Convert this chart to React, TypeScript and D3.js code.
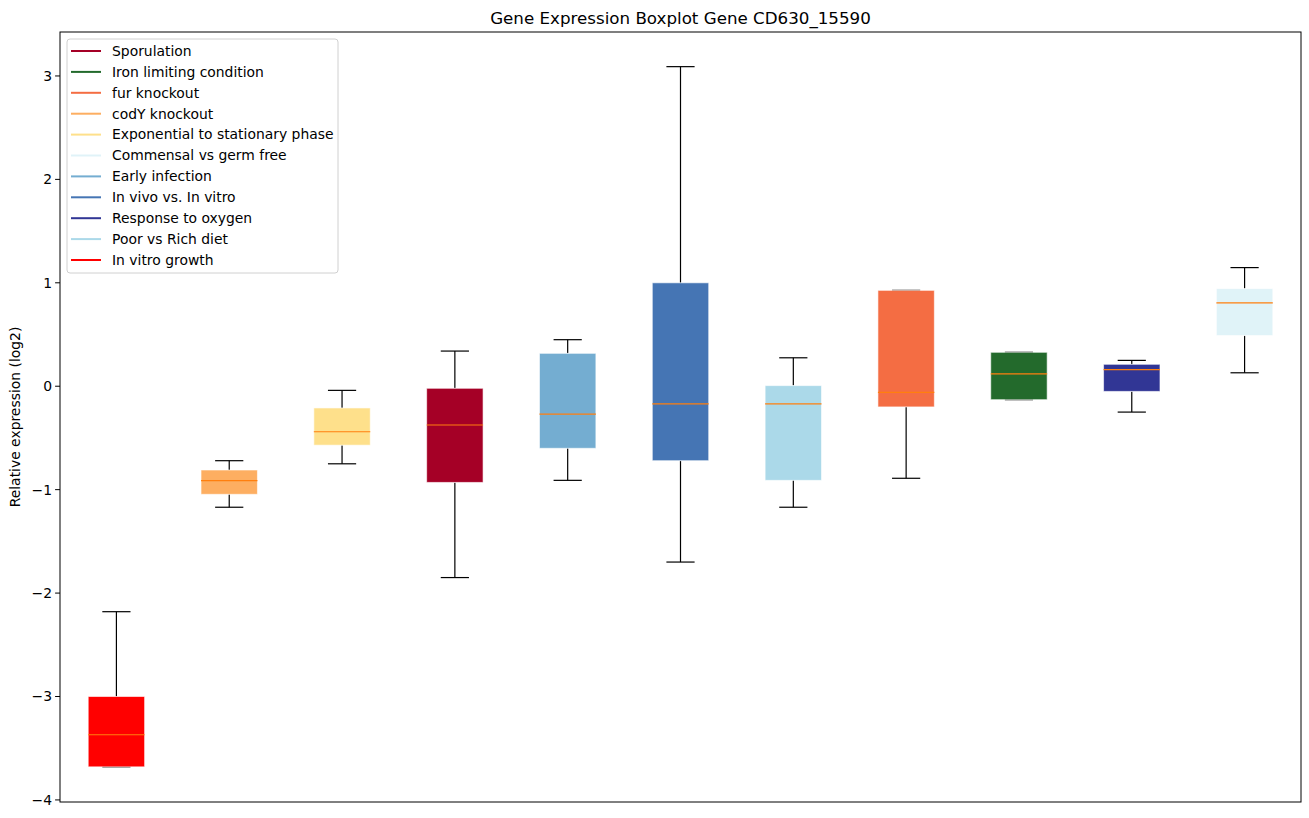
import { useEffect } from 'react';
import * as d3 from 'd3';

// boxes in drawing order, left to right
const categories = [
  'In vitro growth',
  'codY knockout',
  'Exponential to stationary phase',
  'Sporulation',
  'Early infection',
  'In vivo vs. In vitro',
  'Poor vs Rich diet',
  'fur knockout',
  'Iron limiting condition',
  'Response to oxygen',
  'Commensal vs germ free',
];
const whiskerLow = [-3.68, -1.17, -0.75, -1.85, -0.91, -1.70, -1.17, -0.89, -0.13, -0.25, 0.13];
const q1 = [-3.68, -1.045, -0.57, -0.93, -0.60, -0.72, -0.91, -0.20, -0.13, -0.05, 0.49];
const medians = [-3.37, -0.913, -0.44, -0.375, -0.27, -0.17, -0.17, -0.06, 0.12, 0.16, 0.805];
const q3 = [-3.0, -0.81, -0.21, -0.02, 0.318, 1.0, 0.006, 0.927, 0.328, 0.212, 0.944];
const whiskerHigh = [-2.18, -0.72, -0.04, 0.34, 0.45, 3.09, 0.275, 0.927, 0.328, 0.25, 1.147];

const legendOrder = [
  'Sporulation',
  'Iron limiting condition',
  'fur knockout',
  'codY knockout',
  'Exponential to stationary phase',
  'Commensal vs germ free',
  'Early infection',
  'In vivo vs. In vitro',
  'Response to oxygen',
  'Poor vs Rich diet',
  'In vitro growth',
];
const colorOf: Record<string, string> = {
  'Sporulation': '#a50026',
  'Iron limiting condition': '#236a2c',
  'fur knockout': '#f46d43',
  'codY knockout': '#fdae61',
  'Exponential to stationary phase': '#fee08b',
  'Commensal vs germ free': '#e0f3f8',
  'Early infection': '#74add1',
  'In vivo vs. In vitro': '#4575b4',
  'Response to oxygen': '#313695',
  'Poor vs Rich diet': '#abd9e9',
  'In vitro growth': '#ff0000',
};
const yTicks = [-4, -3, -2, -1, 0, 1, 2, 3];

const W = 1309;
const H = 818;
const margin = { top: 32, right: 8, bottom: 16, left: 60 };
const FONT = 'DejaVu Sans, sans-serif';

export default function App() {
  useEffect(() => {
    document.body.style.margin = '0';
  }, []);

  const x = d3.scaleLinear()
    .domain([0.5, categories.length + 0.5])
    .range([margin.left, W - margin.right]);
  const y = d3.scaleLinear()
    .domain([-4.02, 3.425])
    .range([H - margin.bottom, margin.top]);
  const boxW = (x(1) - x(0)) * 0.5;
  const capW = boxW / 2;
  const fmt = (v: number) => (v < 0 ? '\u2212' + Math.abs(v) : String(v));

  return (
    <svg width={W} height={H} style={{ display: 'block', background: '#fff' }} fontFamily={FONT}>
      <text x={(margin.left + W - margin.right) / 2} y={24} textAnchor="middle" fontSize={16.7}>
        Gene Expression Boxplot Gene CD630_15590
      </text>

      {categories.map((c, i) => {
        const cx = x(i + 1);
        return (
          <g key={c}>
            <line x1={cx} x2={cx} y1={y(q3[i])} y2={y(whiskerHigh[i])} stroke="#000" strokeWidth={1.2} />
            <line x1={cx} x2={cx} y1={y(q1[i])} y2={y(whiskerLow[i])} stroke="#000" strokeWidth={1.2} />
            <line x1={cx - capW / 2} x2={cx + capW / 2} y1={y(whiskerHigh[i])} y2={y(whiskerHigh[i])} stroke="#000" strokeWidth={1.2} />
            <line x1={cx - capW / 2} x2={cx + capW / 2} y1={y(whiskerLow[i])} y2={y(whiskerLow[i])} stroke="#000" strokeWidth={1.2} />
            <rect
              x={cx - boxW / 2}
              y={y(q3[i])}
              width={boxW}
              height={y(q1[i]) - y(q3[i])}
              fill={colorOf[c]}
              stroke="#ffffff"
              strokeOpacity={0.6}
              strokeWidth={1}
            />
            <line x1={cx - boxW / 2} x2={cx + boxW / 2} y1={y(medians[i])} y2={y(medians[i])} stroke="#ff7f0e" strokeWidth={1.2} />
          </g>
        );
      })}

      {/* axes frame */}
      <rect
        x={margin.left}
        y={margin.top}
        width={W - margin.right - margin.left}
        height={H - margin.bottom - margin.top}
        fill="none"
        stroke="#000"
        strokeWidth={1}
      />
      {yTicks.map(t => (
        <g key={t}>
          <line x1={margin.left - 4.9} x2={margin.left} y1={y(t)} y2={y(t)} stroke="#000" strokeWidth={1} />
          <text x={margin.left - 8} y={y(t)} dy="0.35em" textAnchor="end" fontSize={13.9}>
            {fmt(t)}
          </text>
        </g>
      ))}
      <text
        transform={`translate(20,${(margin.top + H - margin.bottom) / 2}) rotate(-90)`}
        textAnchor="middle"
        fontSize={13.9}
      >
        Relative expression (log2)
      </text>

      {/* legend */}
      <g>
        <rect x={67} y={39} width={271} height={234} rx={3} fill="#fff" fillOpacity={0.8} stroke="#d0d0d0" strokeWidth={1} />
        {legendOrder.map((name, i) => {
          const ly = 51 + i * 20.9;
          return (
            <g key={name}>
              <line x1={71} x2={101} y1={ly} y2={ly} stroke={colorOf[name]} strokeWidth={2} />
              <text x={112} y={ly} dy="0.35em" fontSize={13.9}>
                {name}
              </text>
            </g>
          );
        })}
      </g>
    </svg>
  );
}
